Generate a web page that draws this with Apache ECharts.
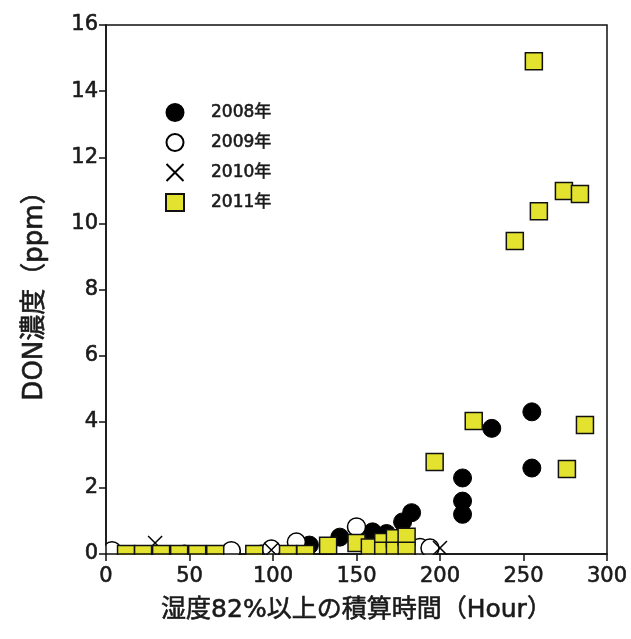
<!DOCTYPE html>
<html>
<head>
<meta charset="utf-8">
<script src="https://cdn.jsdelivr.net/npm/echarts@6/dist/echarts.min.js"></script>
<style>html,body{margin:0;padding:0;background:#fff;}#c{width:631px;height:639px;}</style>
</head>
<body>
<div id="c"></div>
<script>
const seriesNames = ['2008年', '2009年', '2010年', '2011年'];
const xTitle = '湿度82%以上の積算時間（Hour）';
const yTitle = 'DON濃度（ppm）';
const xTicks = [0, 50, 100, 150, 200, 250, 300];
const yTicks = [0, 2, 4, 6, 8, 10, 12, 14, 16];

const d2008 = [[255,4.3],[231,3.8],[255,2.6],[213.5,2.3],[213.5,1.6],[213.5,1.2],[183,1.25],[177.6,0.97],[159.6,0.67],[168,0.62],[140,0.51],[121.8,0.27],[75,0.05],[47,0],[93,0]];
const d2009 = [[3.6,0.1],[75,0.1],[99,0.15],[114,0.36],[150,0.82],[188,0.2],[194,0.18]];
const d2010 = [[29.4,0.33],[99,0.12],[200,0.18]];
const d2011 = [[256.2,14.9],[244.8,9.47],[259.2,10.37],[274.2,10.98],[283.8,10.89],[220.2,4.02],[286.8,3.9],[276,2.57],[196.8,2.78],
  [12,0],[22.2,0],[33,0],[43.8,0],[54.6,0],[65.4,0],[88.8,0],[109,0],[119.4,0],
  [133,0.25],[150,0.33],[158,0.2],[166,0.36],[166,0.1],[173,0.48],[173,0.1],[180,0.52],[180,0.1]];

const FONT = '"DejaVu Sans", "Noto Sans CJK JP", sans-serif';
const chart = echarts.init(document.getElementById('c'));
const crossPath = 'path://M0,0L10,10M10,0L0,10';
const txt = (size) => ({ fontSize: size, color: '#1a1a1a', fontFamily: FONT, textBorderColor: '#1a1a1a', textBorderWidth: 0.6 });

chart.setOption({
  animation: false,
  backgroundColor: '#fff',
  textStyle: { fontFamily: FONT },
  grid: { left: 106, right: 24, top: 25, bottom: 85, show: true, borderColor: '#111', borderWidth: 1.5, backgroundColor: 'transparent' },
  legend: {
    orient: 'vertical', left: 160, top: 98, itemGap: 11, itemWidth: 18, itemHeight: 17,
    textStyle: Object.assign(txt(17), { padding: [0, 0, 0, 22] }),
    data: seriesNames
  },
  xAxis: {
    type: 'value', min: xTicks[0], max: xTicks[xTicks.length - 1], interval: 50, z: 10,
    name: xTitle, nameLocation: 'middle', nameGap: 44,
    nameTextStyle: txt(25),
    axisLine: { lineStyle: { color: '#111', width: 1.5 } },
    axisTick: { inside: false, length: 7, lineStyle: { color: '#111', width: 1.5 } },
    axisLabel: Object.assign(txt(21), { margin: 12 }),
    splitLine: { show: false }
  },
  yAxis: {
    type: 'value', min: yTicks[0], max: yTicks[yTicks.length - 1], interval: 2, z: 10,
    name: yTitle, nameLocation: 'middle', nameGap: 58, nameRotate: 90,
    nameTextStyle: txt(26),
    axisLine: { lineStyle: { color: '#111', width: 1.5 } },
    axisTick: { inside: false, length: 7, lineStyle: { color: '#111', width: 1.5 } },
    axisLabel: Object.assign(txt(21), { margin: 8 }),
    splitLine: { show: false }
  },
  series: [
    { name: seriesNames[0], type: 'scatter', data: d2008, symbol: 'circle', symbolSize: 18, clip: false,
      itemStyle: { color: '#000', borderColor: '#000', borderWidth: 1, opacity: 1 } },
    { name: seriesNames[1], type: 'scatter', data: d2009, symbol: 'circle', symbolSize: 18, clip: false,
      itemStyle: { color: '#fff', borderColor: '#000', borderWidth: 1.5, opacity: 1 } },
    { name: seriesNames[2], type: 'scatter', data: d2010, symbol: crossPath, symbolSize: 14, clip: false,
      itemStyle: { color: 'rgba(0,0,0,0)', borderColor: '#000', borderWidth: 1.5, opacity: 1 } },
    { name: seriesNames[3], type: 'scatter', data: d2011, symbol: 'rect', symbolSize: 17, clip: false,
      itemStyle: { color: '#e3e22e', borderColor: '#111', borderWidth: 1.5, opacity: 1 } }
  ]
});

// mask the parts of markers that fall outside the plotting area (bottom and left)
const p0 = chart.convertToPixel({ gridIndex: 0 }, [0, 0]);
const p1 = chart.convertToPixel({ gridIndex: 0 }, [300, 16]);
chart.setOption({
  graphic: [
    { type: 'rect', z: 5, silent: true, shape: { x: p0[0] - 14, y: p0[1] + 1, width: p1[0] - p0[0] + 14, height: 12 }, style: { fill: '#fff' } },
    { type: 'rect', z: 5, silent: true, shape: { x: p0[0] - 14, y: p1[1], width: 13, height: p0[1] - p1[1] + 12 }, style: { fill: '#fff' } }
  ]
});
</script>
</body>
</html>
